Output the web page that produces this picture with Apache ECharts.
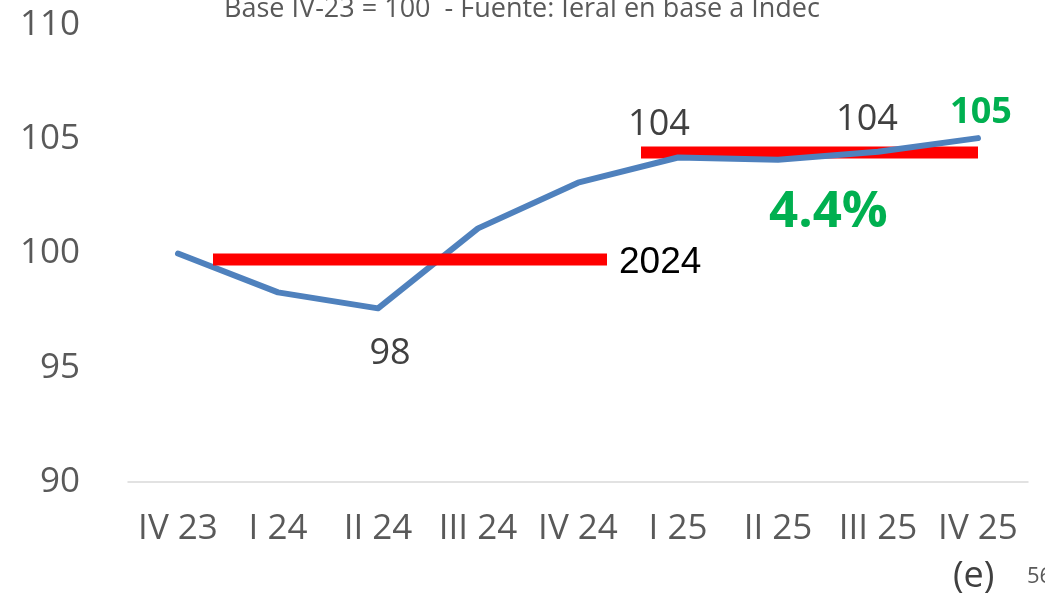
<!DOCTYPE html>
<html>
<head>
<meta charset="utf-8">
<script src="https://cdn.jsdelivr.net/npm/echarts@6/dist/echarts.min.js"></script>
<style>
    html, body { margin: 0; padding: 0; background: #fff; }
    #chart { width: 1045px; height: 596px; }
</style>
</head>
<body>
<div id="chart"></div>
<script>
// trimestres
var categories = ['IV 23', 'I 24', 'II 24', 'III 24', 'IV 24', 'I 25', 'II 25', 'III 25', 'IV 25'];
// indice base IV-23 = 100
var indexValues = [100, 98.3, 97.6, 101.1, 103.1, 104.2, 104.1, 104.45, 105.05];
// promedios anuales (barras rojas), x en posicion de categoria
var avg2024 = [[0.35, 99.74], [4.29, 99.74]];
var avg2025 = [[4.63, 104.42], [8.0, 104.42]];
var yTicks = [90, 95, 100, 105, 110];
var titleText = 'Base IV-23 = 100  - Fuente: Ieral en base a Indec';
var growthText = '4.4%';

var font = '"Open Sans", "Noto Sans", sans-serif';
var myChart = echarts.init(document.getElementById('chart'));

// etiquetas solo en algunos puntos
var lineData = indexValues.map(function (v, i) {
    var item = { value: v };
    if (i === 2) {
        item.label = { show: true, position: 'bottom', distance: 27, offset: [12, 0] };
    } else if (i === 5) {
        item.label = { show: true, position: 'top', distance: 14, offset: [-19, 0] };
    } else if (i === 7) {
        item.label = { show: true, position: 'top', distance: 14, offset: [-11, 0] };
    } else if (i === 8) {
        item.label = { show: true, position: 'top', distance: 7, offset: [3, 0], color: '#00B050', fontWeight: 'bold' };
    }
    return item;
});

var option = {
    animation: false,
    backgroundColor: '#fff',
    title: {
        text: titleText,
        left: 517,
        textAlign: 'center',
        top: -9,
        textStyle: { fontFamily: font, fontSize: 27, fontWeight: 'normal', color: '#595959' }
    },
    grid: { left: 128, right: 17, top: 25, bottom: 114 },
    xAxis: [
        {
            type: 'category',
            data: categories,
            boundaryGap: true,
            axisLine: { lineStyle: { color: '#D9D9D9', width: 1.5 } },
            axisTick: { show: false },
            axisLabel: { color: '#595959', fontSize: 35, fontFamily: font, margin: 30, interval: 0 }
        },
        {
            type: 'value',
            min: -0.5,
            max: 8.5,
            show: false
        }
    ],
    yAxis: {
        type: 'value',
        min: 90,
        max: 110,
        interval: 5,
        axisLine: { show: false },
        axisTick: { show: false },
        splitLine: { show: false },
        axisLabel: { color: '#595959', fontSize: 35, fontFamily: font, margin: 48 }
    },
    series: [
        {
            name: 'Indice',
            type: 'line',
            data: lineData,
            symbol: 'circle',
            symbolSize: 1,
            showSymbol: true,
            itemStyle: { color: 'rgba(0,0,0,0)' },
            z: 3,
            lineStyle: { color: '#4F81BD', width: 6, cap: 'round', join: 'round' },
            label: {
                show: false,
                color: '#404040',
                fontSize: 36,
                fontFamily: font,
                formatter: function (p) { return Math.round(p.value); }
            }
        },
        {
            name: '2024',
            type: 'line',
            xAxisIndex: 1,
            data: avg2024,
            symbol: 'none',
            z: 4,
            lineStyle: { color: '#FF0000', width: 12, cap: 'butt' },
            endLabel: {
                show: true,
                formatter: '2024',
                color: '#000',
                fontSize: 37,
                fontFamily: '"Liberation Sans", Arial, sans-serif',
                distance: 12,
                offset: [0, 3]
            }
        },
        {
            name: '2025',
            type: 'line',
            xAxisIndex: 1,
            data: avg2025,
            symbol: 'none',
            z: 2,
            lineStyle: { color: '#FF0000', width: 12, cap: 'butt' }
        }
    ],
    graphic: [
        {
            type: 'text',
            left: 769,
            top: 187,
            style: { text: growthText, fill: '#00B050', font: 'bold 51px ' + font }
        },
        {
            type: 'text',
            left: 953,
            top: 559,
            style: { text: '(e)', fill: '#404040', font: '36px ' + font }
        },
        {
            type: 'text',
            left: 1027,
            top: 566,
            style: { text: '56', fill: '#595959', font: '22px ' + font }
        }
    ]
};

myChart.setOption(option);
</script>
</body>
</html>
